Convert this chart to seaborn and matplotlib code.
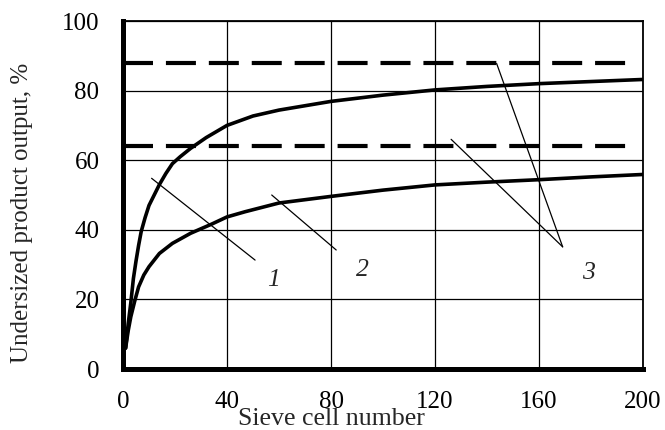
import matplotlib
matplotlib.use("Agg")
import matplotlib.pyplot as plt
import seaborn as sns
import pandas as pd

# ---- data ----
x_curve1 = [1, 2, 3, 4, 5, 6, 7, 8.5, 10, 12, 14, 16.5, 19, 22, 26, 32, 40, 50, 60, 80, 100, 120, 140, 160, 180, 200]
y_curve1 = [6, 13, 19, 26, 31, 35.5, 39.5, 43.5, 47, 50, 53, 56.2, 59, 61, 63.4, 66.5, 70, 72.7, 74.4, 76.9, 78.7, 80.2, 81.2, 82, 82.6, 83.2]
x_curve2 = [1, 2, 3, 4.5, 6, 8, 10, 14, 19, 26, 34, 40, 47, 60, 80, 100, 120, 140, 160, 180, 200]
y_curve2 = [6, 11, 15, 19.5, 23.6, 27, 29.4, 33.2, 36.1, 39, 41.6, 43.7, 45.2, 47.7, 49.6, 51.4, 52.9, 53.7, 54.4, 55.2, 55.9]
dashed_levels = [88, 64]
dashed_x = [0, 198]
x_ticks = [0, 40, 80, 120, 160, 200]
y_ticks = [0, 20, 40, 60, 80, 100]
curve_labels = ["1", "2", "3"]
x_title = "Sieve cell number"
y_title = "Undersized product output, %"

sns.set_theme(style="white")
plt.rcParams["font.family"] = ["Liberation Serif", "DejaVu Serif"]

fig = plt.figure(figsize=(6.65, 4.3), dpi=100)
ax = fig.add_axes([123 / 665, 1 - 369 / 430, 520 / 665, 348 / 430])

df1 = pd.DataFrame({"x": x_curve1, "y": y_curve1})
df2 = pd.DataFrame({"x": x_curve2, "y": y_curve2})
sns.lineplot(data=df1, x="x", y="y", ax=ax, color="black", lw=2.6, sort=False, zorder=4)
sns.lineplot(data=df2, x="x", y="y", ax=ax, color="black", lw=2.6, sort=False, zorder=4)
for lvl in dashed_levels:
    dfd = pd.DataFrame({"x": dashed_x, "y": [lvl, lvl]})
    sns.lineplot(data=dfd, x="x", y="y", ax=ax, color="black", lw=3.0,
                 dashes=False, zorder=4).lines[-1].set_dashes((7.2, 3.1))

ax.set_xlim(0, 200)
ax.set_ylim(0, 100)
ax.set_xticks(x_ticks)
ax.set_yticks(y_ticks)
ax.set_xticklabels([str(t) for t in x_ticks])
ax.set_yticklabels([str(t) for t in y_ticks])
ax.set_xlabel("")
ax.set_ylabel("")
ax.grid(True, color="black", lw=0.9)
ax.set_axisbelow(True)

for side in ["left", "bottom"]:
    ax.spines[side].set_linewidth(3.6)
    ax.spines[side].set_color("black")
    ax.spines[side].set_zorder(5)
for side in ["top", "right"]:
    ax.spines[side].set_linewidth(1.3)
    ax.spines[side].set_color("black")
    ax.spines[side].set_visible(True)

ax.tick_params(axis="both", direction="out", length=5, width=3.5, color="black",
               labelsize=18, labelcolor="black")
ax.tick_params(axis="y", pad=12)
ax.tick_params(axis="x", pad=10.5)

# leader lines
lw_lead = 0.9
ax.plot([11, 50.8], [54.8, 31.3], color="black", lw=lw_lead, zorder=3)
ax.plot([57.2, 82], [50, 34.2], color="black", lw=lw_lead, zorder=3)
ax.plot([143.7, 169.1], [87.8, 35.1], color="black", lw=lw_lead, zorder=3)
ax.plot([126.2, 169.1], [66, 35.1], color="black", lw=lw_lead, zorder=3)

ax.text(57.7, 25.6, curve_labels[0], style="italic", fontsize=18.5, ha="center", va="center")
ax.text(92, 28.4, curve_labels[1], style="italic", fontsize=18.5, ha="center", va="center")
ax.text(179, 27.5, curve_labels[2], style="italic", fontsize=18.5, ha="center", va="center")

fig.text(331 / 665, 1 - 425 / 430, x_title, fontsize=18.6, ha="center", va="baseline")
fig.text(22 / 665, 1 - 212.5 / 430, y_title, fontsize=18, ha="center", va="center",
         rotation=90)

fig.savefig("out.png", dpi=100, facecolor="white")
